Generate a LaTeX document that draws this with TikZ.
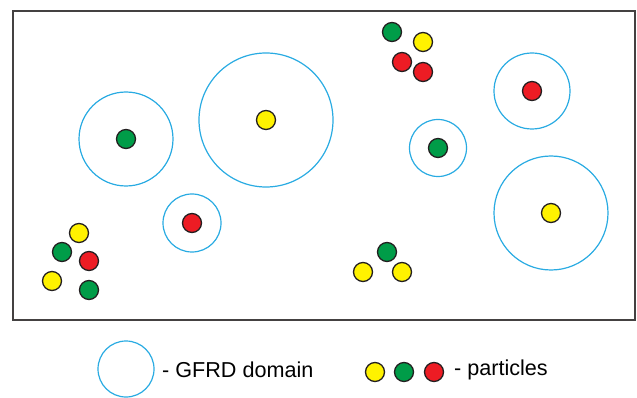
\documentclass[tikz,border=0pt]{standalone}
\usepackage{fontspec}
\setmainfont{Liberation Sans}
\definecolor{dom}{RGB}{41,171,226}
\definecolor{py}{RGB}{255,242,0}
\definecolor{pg}{RGB}{0,156,72}
\definecolor{pr}{RGB}{237,28,36}
\definecolor{edge}{RGB}{35,31,32}
\begin{document}
\begin{tikzpicture}[x=1pt,y=-1pt,
  domain/.style={circle,draw=dom,line width=1.2pt,inner sep=0pt,minimum size=#1},
  part/.style={circle,draw=edge,line width=1.3pt,inner sep=0pt,minimum size=19pt,fill=#1},
  lbl/.style={anchor=west,inner sep=0pt,font=\fontsize{21.6}{24}\selectfont}]
\useasboundingbox (0,0) rectangle (637,398);
\node[draw=edge!85,line width=2pt,minimum width=622pt,minimum height=309pt,inner sep=0pt,anchor=north west] (frame) at (12,10) {};
% domains
\node[domain=94pt] (d1) at (126,139) {};
\node[part=pg] (p1) at (126,139) {};
\node[domain=134pt] (d2) at (266,120) {};
\node[part=py] (p2) at (266,120) {};
\node[domain=58pt] (d3) at (192,223) {};
\node[part=pr] (p3) at (192,223) {};
\node[domain=57pt] (d4) at (438,148) {};
\node[part=pg] (p4) at (438,148) {};
\node[domain=76pt] (d5) at (532,91) {};
\node[part=pr] (p5) at (532,91) {};
\node[domain=114pt] (d6) at (551,213) {};
\node[part=py] (p6) at (551,213) {};
% free particles bottom-left
\node[part=py] (a1) at (79,233) {};
\node[part=pg] (a2) at (62,252) {};
\node[part=pr] (a3) at (89,261) {};
\node[part=py] (a4) at (52,281) {};
\node[part=pg] (a5) at (89,290) {};
% top cluster
\node[part=pg] (b1) at (392,32) {};
\node[part=py] (b2) at (423,42) {};
\node[part=pr] (b3) at (402,62) {};
\node[part=pr] (b4) at (423,72) {};
% bottom middle
\node[part=pg] (c1) at (387,252) {};
\node[part=py] (c2) at (363,272) {};
\node[part=py] (c3) at (402,272) {};
% legend
\node[domain=56pt] (ld) at (126,369) {};
\node[lbl] (lt1) at (162,370) {- GFRD domain};
\node[part=py] (l1) at (375,372) {};
\node[part=pg] (l2) at (404,372) {};
\node[part=pr] (l3) at (434,372) {};
\node[lbl] (lt2) at (454,370) {- particles};
\end{tikzpicture}
\end{document}
